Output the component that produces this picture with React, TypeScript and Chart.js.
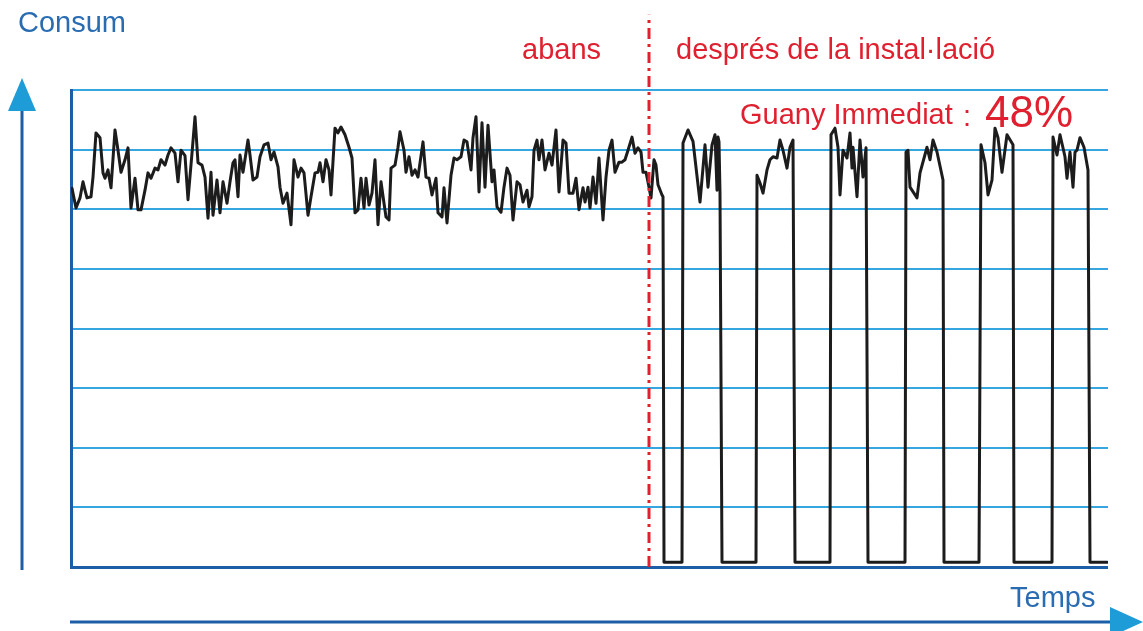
import React, { useEffect, useRef } from 'react';
import { Chart, registerables } from 'chart.js';

Chart.register(...registerables);

// Time (horizontal units) and consumption values
const tempsAbans = [
  1, 5, 9, 12, 14, 16, 20, 22, 25, 29, 32, 34, 37, 40, 44, 47, 50, 54, 57, 60,
  64, 67, 70, 74, 77, 80, 84, 87, 90, 94, 97, 100, 104, 107, 110, 114, 117, 121, 124, 127,
  131, 134, 137, 140, 142, 146, 149, 152, 156, 159, 162, 164, 167, 169, 172, 177, 179, 182, 186, 189,
  193, 197, 200, 203, 207, 209, 212, 216, 220, 223, 227, 230, 233, 237, 240, 244, 247, 249, 252, 255,
  258, 260, 264, 267, 270, 274, 278, 281, 284, 287, 290, 293, 295, 298, 301, 304, 307, 310, 313, 315,
  318, 320, 324, 327, 329, 333, 335, 338, 341, 344, 347, 352, 355, 358, 361, 365, 367, 371, 373, 376,
  380, 383, 386, 390, 393, 396, 400, 402, 405, 408, 411, 414, 417, 421, 423, 426, 430, 433, 436, 439,
  442, 446, 449, 452, 456, 458, 461, 463, 466, 468, 471, 474, 478, 481, 485, 488, 492, 495, 498, 502,
  505, 508, 512, 514, 517, 519, 522, 525, 528, 532, 535, 538, 541, 544, 548, 551, 554, 557, 561, 564,
  567, 570, 572, 575, 578, 580, 583, 585, 587, 591, 592,
];
const consumAbans = [
  6.35, 6.02, 6.19, 6.46, 6.32, 6.19, 6.21, 6.54, 7.28, 7.2, 6.61, 6.52, 6.66, 6.36, 7.33, 6.99, 6.62, 6.83, 7.03, 6.02,
  6.52, 5.99, 5.99, 6.32, 6.61, 6.52, 6.69, 6.66, 6.83, 6.74, 6.91, 7.03, 6.94, 6.46, 6.99, 6.9, 6.16, 6.94, 7.55, 6.78,
  6.74, 6.54, 5.85, 6.62, 5.9, 6.49, 5.94, 6.46, 6.1, 6.46, 6.78, 6.83, 6.21, 6.91, 6.62, 7.16, 6.91, 6.49, 6.54, 6.88,
  7.08, 7.11, 6.83, 6.96, 6.71, 6.37, 6.1, 6.27, 5.74, 6.83, 6.54, 6.69, 6.61, 5.9, 6.21, 6.61, 6.62, 6.78, 6.46, 6.83,
  6.66, 6.24, 7.36, 7.28, 7.38, 7.25, 7.04, 6.86, 5.94, 5.99, 6.52, 6.02, 6.52, 6.07, 6.27, 6.83, 5.74, 6.46, 6.1, 5.87,
  5.82, 6.69, 6.74, 7.04, 7.3, 6.99, 6.62, 6.88, 6.57, 6.66, 6.54, 7.13, 6.54, 6.52, 6.24, 6.52, 5.94, 5.87, 6.36, 5.77,
  6.57, 6.86, 6.83, 6.88, 7.16, 7.13, 6.66, 7.2, 7.55, 6.29, 7.45, 6.37, 7.41, 6.46, 6.66, 6.04, 5.95, 6.37, 6.69, 6.57,
  5.82, 6.46, 6.41, 6.12, 6.32, 6.04, 6.21, 6.99, 7.16, 6.83, 7.16, 6.66, 6.94, 6.74, 7.33, 6.29, 7.16, 7.11, 6.27, 6.27,
  6.52, 5.99, 6.36, 6.12, 6.37, 6.02, 6.54, 6.1, 6.86, 5.82, 6.54, 6.99, 7.16, 6.62, 6.79, 6.79, 6.83, 6.99, 7.21, 6.94,
  7.03, 6.96, 6.62, 6.62, 6.37, 6.19, 6.83, 6.74, 6.41, 6.24, 6.21,
];
const tempsDespres = [
  593, 611, 612, 617, 622, 629, 634, 637, 641, 644, 646, 647, 648, 649, 651,
  685, 686, 689, 692, 696, 699, 702, 706, 709, 712, 716, 719, 722, 724,
  759, 760, 764, 767, 769, 772, 776, 779, 781, 782, 786, 789, 792, 795, 797,
  834, 835, 837, 839, 846, 849, 856, 859, 862, 866, 872, 873,
  908, 910, 914, 917, 921, 924, 927, 931, 936, 942, 943,
  981, 982, 986, 989, 994, 996, 999, 1002, 1004, 1006, 1009, 1013, 1017, 1019, 1036,
];
const consumDespres = [
  0.08, 0.08, 7.11, 7.33, 7.14, 6.12, 7.08, 6.37, 7.08, 7.25, 6.32, 7.21, 7.13, 6.27, 0.08,
  0.08, 6.57, 6.44, 6.27, 6.66, 6.83, 6.88, 6.86, 7.16, 6.99, 6.69, 7.04, 7.16, 0.08,
  0.08, 7.25, 7.36, 7.04, 6.24, 6.99, 6.86, 7.28, 6.69, 7.04, 6.21, 7.16, 6.54, 7.03, 0.08,
  0.08, 6.96, 6.99, 6.37, 6.19, 6.61, 7.04, 6.83, 7.16, 6.96, 6.49, 0.08,
  0.08, 7.08, 6.78, 6.24, 6.49, 7.36, 7.2, 6.62, 7.25, 7.08, 0.08,
  0.08, 7.21, 6.91, 7.25, 6.88, 6.52, 6.96, 6.37, 6.96, 6.99, 7.2, 7.04, 6.66, 0.08, 0.08,
];
const tempsInstallacio = 578;
const tempsMax = 1037;
const consumMax = 8;
const limitSuperiorSeparador = 9.26;

const etiquetaEixY = 'Consum';
const etiquetaEixX = 'Temps';
const etiquetaAbans = 'abans';
const etiquetaDespres = 'després de la instal·lació';
const etiquetaGuany = 'Guany Immediat';
const valorGuany = '48%';

const GRID_LIGHT = '#35a6e0';
const AXIS_DARK = '#1d5fa6';
const ARROW_HEAD = '#1e9cd8';
const RED = '#e0202f';
const TEXT_BLUE = '#2a6cb2';

const decorPlugin = {
  id: 'decor',
  afterDraw(chart: any) {
    const ctx = chart.ctx as CanvasRenderingContext2D;
    ctx.save();
    // Y arrow
    ctx.strokeStyle = AXIS_DARK;
    ctx.lineWidth = 3;
    ctx.beginPath();
    ctx.moveTo(22, 570);
    ctx.lineTo(22, 108);
    ctx.stroke();
    ctx.fillStyle = ARROW_HEAD;
    ctx.beginPath();
    ctx.moveTo(22, 78);
    ctx.lineTo(36, 111);
    ctx.lineTo(8, 111);
    ctx.closePath();
    ctx.fill();
    // X arrow
    ctx.beginPath();
    ctx.moveTo(70, 622);
    ctx.lineTo(1112, 622);
    ctx.stroke();
    ctx.beginPath();
    ctx.moveTo(1143, 622);
    ctx.lineTo(1110, 607);
    ctx.lineTo(1110, 637);
    ctx.closePath();
    ctx.fill();

    // Texts
    ctx.textBaseline = 'alphabetic';
    ctx.textAlign = 'left';
    ctx.fillStyle = TEXT_BLUE;
    ctx.font = '29px "Liberation Sans", Arial, sans-serif';
    ctx.fillText(etiquetaEixY, 18, 32);
    ctx.fillText(etiquetaEixX, 1010, 607);

    ctx.fillStyle = RED;
    ctx.font = '29px "Liberation Sans", Arial, sans-serif';
    ctx.fillText(etiquetaAbans, 522, 59);
    ctx.fillText(etiquetaDespres, 676, 59);
    ctx.fillText(etiquetaGuany, 740, 124);
    ctx.fillText(':', 963, 126);
    ctx.font = '44px "Liberation Sans", Arial, sans-serif';
    ctx.fillText(valorGuany, 985, 127);
    ctx.restore();
  },
};

export default function App() {
  const canvasRef = useRef<HTMLCanvasElement | null>(null);

  useEffect(() => {
    const canvas = canvasRef.current;
    if (!canvas) return;
    const serie = [
      ...tempsAbans.map((t, i) => ({ x: t, y: consumAbans[i] })),
      ...tempsDespres.map((t, i) => ({ x: t, y: consumDespres[i] })),
    ];
    const chart = new Chart(canvas, {
      type: 'line',
      data: {
        datasets: [
          {
            label: 'Consum',
            data: serie,
            borderColor: '#1c1c1c',
            borderWidth: 3,
            pointRadius: 0,
            tension: 0,
            borderJoinStyle: 'round',
            borderCapStyle: 'round',
            order: 2,
          },
          {
            label: 'Instal·lació',
            data: [
              { x: tempsInstallacio, y: 0 },
              { x: tempsInstallacio, y: limitSuperiorSeparador },
            ],
            borderColor: RED,
            borderWidth: 3,
            borderDash: [11, 5, 3, 5],
            pointRadius: 0,
            clip: false,
            order: 1,
          },
        ],
      },
      options: {
        responsive: false,
        animation: false,
        events: [],
        layout: { padding: { left: 71, right: 35, top: 90, bottom: 64 } },
        plugins: {
          legend: { display: false },
          tooltip: { enabled: false },
        },
        scales: {
          x: {
            type: 'linear',
            min: 0,
            max: tempsMax,
            display: false,
          },
          y: {
            type: 'linear',
            min: 0,
            max: consumMax,
            ticks: { display: false, stepSize: 1 },
            grid: {
              drawTicks: false,
              color: (c: any) => (c.tick && c.tick.value === 0 ? AXIS_DARK : GRID_LIGHT),
              lineWidth: (c: any) => (c.tick && c.tick.value === 0 ? 3 : 2),
            },
            border: { display: true, color: AXIS_DARK, width: 3 },
          },
        },
      },
      plugins: [decorPlugin],
    });
    return () => chart.destroy();
  }, []);

  return (
    <div style={{ position: 'absolute', left: 0, top: 0, width: 1143, height: 631, background: '#fff' }}>
      <canvas ref={canvasRef} width={1143} height={631} style={{ width: 1143, height: 631, display: 'block' }} />
    </div>
  );
}
